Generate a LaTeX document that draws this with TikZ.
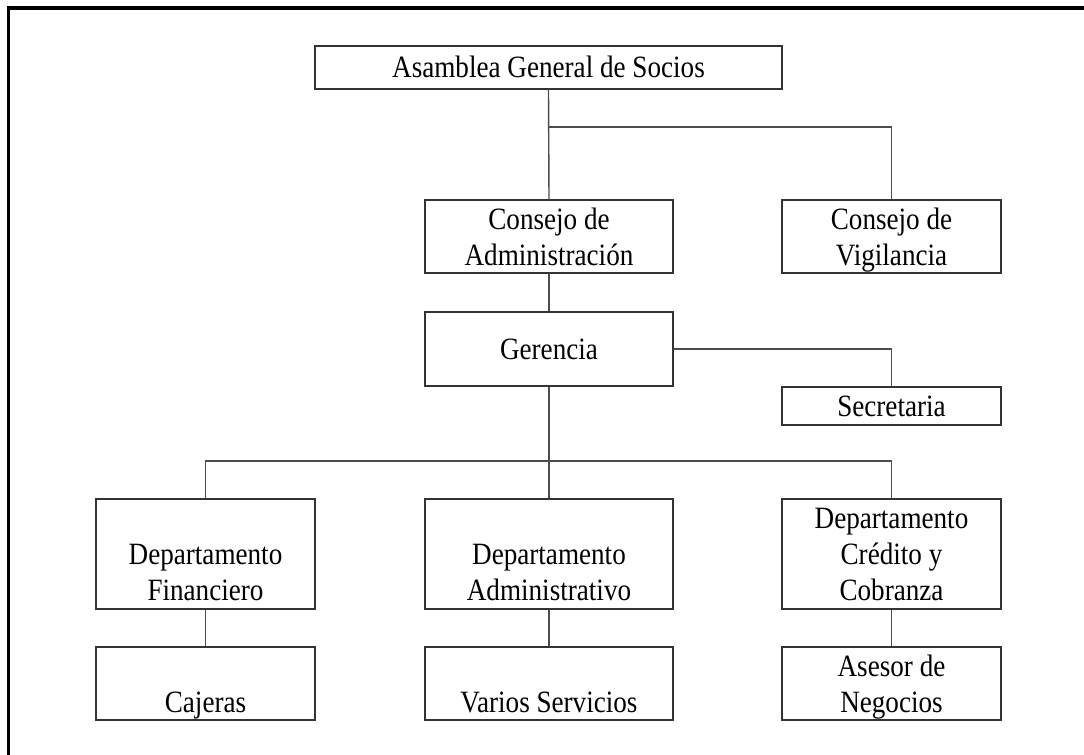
\documentclass[tikz,border=0pt]{standalone}
\usepackage{fontspec}
\setmainfont{Liberation Serif}[FakeStretch=0.875]
\newcommand\ls{\rule[-7.5bp]{0pt}{36bp}}
\tikzset{
  orgbox/.style={draw=black!80, line width=1.4bp, rectangle, inner sep=0pt,
    align=center, font=\fontsize{31bp}{36bp}\selectfont, text=black},
  link/.style={draw=black!70, line width=1.4bp},
  frame/.style={draw=black, line width=3.5bp}
}
\begin{document}
\begin{tikzpicture}[x=1bp,y=-1bp]
\useasboundingbox (0,0) rectangle (1084,755);
\fill[white] (0,0) rectangle (1084,755);
\draw[frame] (8.5,755) -- (8.5,8) -- (1084,8);

\node[orgbox, minimum width=467bp, minimum height=43bp] (asam) at (548.5,67.5) {\ls Asamblea General de Socios};
\node[orgbox, minimum width=248bp, minimum height=73bp] (cadm) at (549,236.5) {\ls Consejo de\\\ls Administración};
\node[orgbox, minimum width=219bp, minimum height=73bp] (cvig) at (891.5,236.5) {\ls Consejo de\\\ls Vigilancia};
\node[orgbox, minimum width=248bp, minimum height=74bp] (ger) at (549,349) {\ls Gerencia};
\node[orgbox, minimum width=219bp, minimum height=38bp] (sec) at (891.5,406) {\ls Secretaria};
\node[orgbox, minimum width=219bp, minimum height=110bp] (dfin) at (205.5,554) {\ls\\\ls Departamento\\\ls Financiero};
\node[orgbox, minimum width=248bp, minimum height=110bp] (dadm) at (549,554) {\ls\\\ls Departamento\\\ls Administrativo};
\node[orgbox, minimum width=219bp, minimum height=110bp] (dcred) at (891.5,554) {\ls Departamento\\\ls Crédito y\\\ls Cobranza};
\node[orgbox, minimum width=219bp, minimum height=73bp] (caj) at (205.5,683.5) {\ls\\\ls Cajeras};
\node[orgbox, minimum width=248bp, minimum height=73bp] (var) at (549,683.5) {\ls\\\ls Varios Servicios};
\node[orgbox, minimum width=219bp, minimum height=73bp] (ases) at (891.5,683.5) {\ls Asesor de\\\ls Negocios};

\coordinate (j1) at (549,127);
\coordinate (j2) at (549,461);

\draw[link] (asam.south) -- (cadm.north);
\draw[link] (j1) -| (cvig.north);
\draw[link] (cadm.south) -- (ger.north);
\draw[link] (ger.east) -| (sec.north);
\draw[link] (ger.south) -- (dadm.north);
\draw[link] (dfin.north) |- (j2) -| (dcred.north);
\draw[link] (dfin.south) -- (caj.north);
\draw[link] (dadm.south) -- (var.north);
\draw[link] (dcred.south) -- (ases.north);
\end{tikzpicture}
\end{document}
